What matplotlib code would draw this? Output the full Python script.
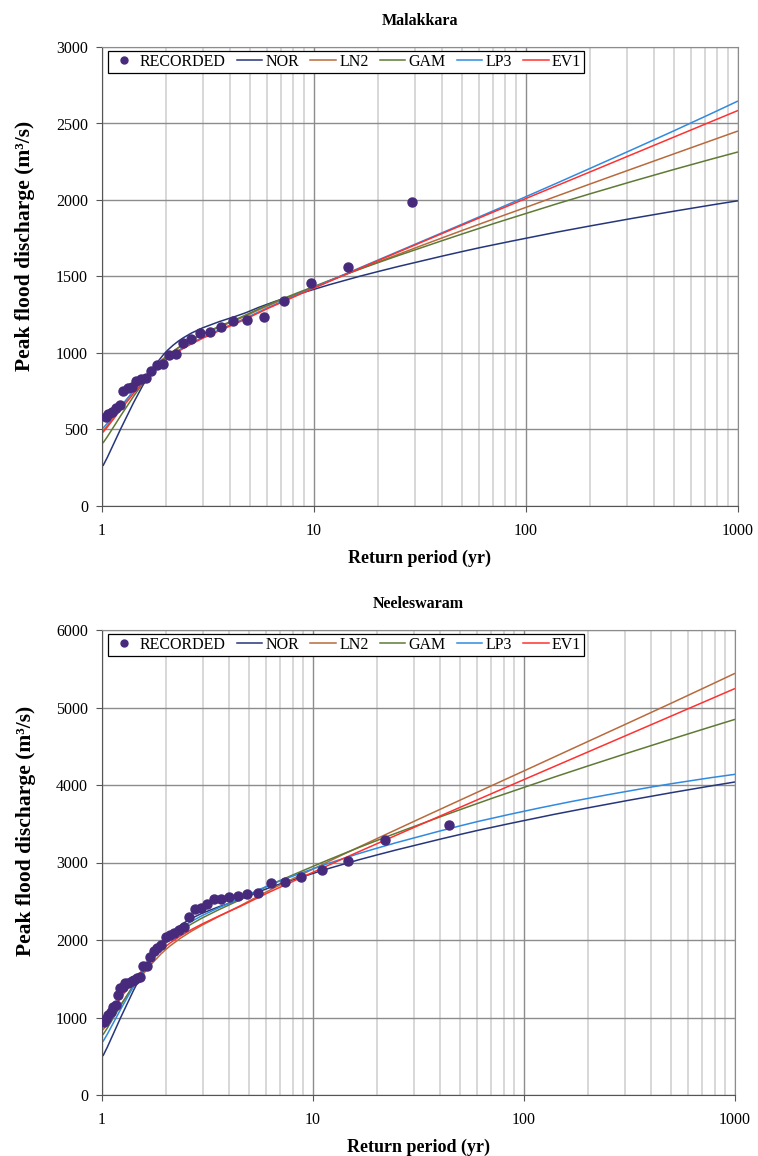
import numpy as np
import matplotlib
matplotlib.use("Agg")
import matplotlib.pyplot as plt
from matplotlib.path import Path
from matplotlib.patches import PathPatch
from matplotlib.lines import Line2D
from matplotlib.ticker import LogLocator, MultipleLocator, FixedFormatter, FixedLocator

plt.rcParams["font.family"] = ["Liberation Serif", "DejaVu Serif"]

# return periods used for the fitted distributions
T_fit = [1.01, 2, 5, 10, 20, 50, 100, 200, 500, 1000]

# Malakkara - recorded peaks (Weibull positions) and fits
T_rec_m = [29.0, 14.5, 9.67, 7.25, 5.8, 4.83, 4.14, 3.63, 3.22, 2.9, 2.64, 2.42,
           2.23, 2.07, 1.93, 1.81, 1.71, 1.61, 1.53, 1.45, 1.38, 1.32, 1.26,
           1.21, 1.16, 1.12, 1.07, 1.04]
Q_rec_m = [1985, 1565, 1460, 1340, 1237, 1216, 1211, 1168, 1135, 1128, 1089, 1067,
           993, 987, 928, 922, 882, 839, 830, 819, 776, 769, 754,
           660, 638, 616, 601, 580]
nor_m = [262, 1006, 1275, 1416, 1532, 1663, 1750, 1830, 1927, 1995]
ln2_m = [489, 977, 1256, 1431, 1594, 1801, 1952, 2104, 2302, 2451]
gam_m = [411, 972, 1262, 1435, 1590, 1778, 1912, 2040, 2200, 2314]
lp3_m = [508, 961, 1242, 1428, 1607, 1842, 2022, 2206, 2453, 2647]
ev1_m = [481, 953, 1236, 1424, 1603, 1836, 2010, 2183, 2412, 2585]

# Neeleswaram
T_rec_n = [44.0, 22.0, 14.67, 11.0, 8.8, 7.33, 6.29, 5.5, 4.89, 4.4,
           4.0, 3.67, 3.38, 3.14, 2.93, 2.75, 2.59, 2.44, 2.32, 2.2,
           2.1, 2.0, 1.91, 1.83, 1.76, 1.69, 1.63, 1.57, 1.52, 1.47,
           1.42, 1.38, 1.33, 1.29, 1.26, 1.22, 1.19, 1.16, 1.13, 1.1,
           1.07, 1.05, 1.02]
Q_rec_n = [3490, 3290, 3019, 2903, 2813, 2748, 2740, 2602, 2593, 2568,
           2551, 2533, 2525, 2464, 2413, 2404, 2301, 2172, 2129, 2094,
           2064, 2035, 1935, 1892, 1862, 1776, 1664, 1660, 1527, 1506,
           1484, 1475, 1449, 1441, 1390, 1377, 1290, 1161, 1140, 1075,
           1032, 977, 946]
nor_n = [503, 2022, 2571, 2859, 3096, 3363, 3541, 3704, 3901, 4039]
ln2_n = [839, 1874, 2505, 2916, 3306, 3807, 4182, 4559, 5057, 5441]
gam_n = [776, 1958, 2579, 2950, 3282, 3684, 3969, 4244, 4592, 4847]
lp3_n = [688, 1985, 2591, 2918, 3183, 3474, 3661, 3826, 4017, 4138]
ev1_n = [950, 1915, 2492, 2874, 3240, 3714, 4070, 4424, 4891, 5245]

names = ["NOR", "LN2", "GAM", "LP3", "EV1"]
colors = ["#26367a", "#b86a3c", "#5e7a34", "#2f8ae0", "#ff3030"]
rec_color = "#472a7c"


def smooth_path(T, Q):
    # spreadsheet style smoothed line: cubic bezier segments, built in log-T space
    u = np.log10(T)
    v = np.array(Q, dtype=float)
    n = len(u)
    verts = [(T[0], v[0])]
    codes = [Path.MOVETO]
    for i in range(n - 1):
        i0 = max(i - 1, 0)
        i3 = min(i + 2, n - 1)
        b1 = (u[i] + (u[i + 1] - u[i0]) / 6, v[i] + (v[i + 1] - v[i0]) / 6)
        b2 = (u[i + 1] - (u[i3] - u[i]) / 6, v[i + 1] - (v[i3] - v[i]) / 6)
        verts += [(10 ** b1[0], b1[1]), (10 ** b2[0], b2[1]), (T[i + 1], v[i + 1])]
        codes += [Path.CURVE4] * 3
    return Path(verts, codes)


fig = plt.figure(figsize=(7.58, 11.56), dpi=100)
ax1 = fig.add_axes([102 / 758, 1 - 506 / 1156, 636 / 758, 459 / 1156])
ax2 = fig.add_axes([102 / 758, 1 - 1095 / 1156, 633 / 758, 465 / 1156])

panels = [
    (ax1, "Malakkara", T_rec_m, Q_rec_m, [nor_m, ln2_m, gam_m, lp3_m, ev1_m], 3000, 500),
    (ax2, "Neeleswaram", T_rec_n, Q_rec_n, [nor_n, ln2_n, gam_n, lp3_n, ev1_n], 6000, 1000),
]

for ax, title, T_rec, Q_rec, fits, ymax, ystep in panels:
    ax.set_xscale("log")
    ax.set_xlim(1, 1000)
    ax.set_ylim(0, ymax)

    ax.xaxis.set_major_locator(FixedLocator([1, 10, 100, 1000]))
    ax.xaxis.set_major_formatter(FixedFormatter(["1", "10", "100", "1000"]))
    ax.xaxis.set_minor_locator(LogLocator(base=10, subs=np.arange(2, 10)))
    ax.xaxis.set_minor_formatter(plt.NullFormatter())
    ax.yaxis.set_major_locator(MultipleLocator(ystep))

    ax.grid(which="minor", axis="x", color="#d4d4d4", lw=1.3)
    ax.grid(which="major", axis="x", color="#8c8c8c", lw=1.0)
    ax.grid(which="major", axis="y", color="#8c8c8c", lw=1.0)
    ax.set_axisbelow(True)

    for side in ["top", "right"]:
        ax.spines[side].set_color("#8c8c8c")
    for side in ["left", "bottom"]:
        ax.spines[side].set_color("#555555")

    ax.tick_params(axis="both", which="major", direction="out", length=4,
                   color="#555555", labelsize=11.5, pad=6)
    ax.tick_params(axis="x", which="minor", length=0)
    ax.tick_params(axis="x", which="major", pad=8)

    # fitted distributions
    for vals, c in zip(fits, colors):
        ax.add_patch(PathPatch(smooth_path(T_fit, vals), fill=False,
                               edgecolor=c, lw=1.1, zorder=2))

    # recorded
    ax.plot(T_rec, Q_rec, "o", color=rec_color, ms=6.5, zorder=3)

    ax.set_title(title, fontsize=11.5, fontweight="bold", pad=16)
    ax.set_xlabel("Return period (yr)", fontsize=13, fontweight="bold", labelpad=8)
    ax.set_ylabel("Peak flood discharge (m³/s)", fontsize=15.5, fontweight="bold")
    ax.yaxis.set_label_coords(-0.105, 0.567)

    handles = [Line2D([], [], ls="none", marker="o", color=rec_color, ms=5)]
    handles += [Line2D([], [], color=c, lw=1.1) for c in colors]
    leg = ax.legend(handles, ["RECORDED"] + names, ncol=6, loc="upper left",
                    bbox_to_anchor=(0.009, 0.992), borderaxespad=0, fontsize=11.5,
                    handlelength=1.6, handletextpad=0.2, columnspacing=0.7,
                    borderpad=0.2, fancybox=False, framealpha=1)
    leg.get_frame().set_edgecolor("black")
    leg.get_frame().set_linewidth(0.9)

fig.savefig("out.png", dpi=100)
